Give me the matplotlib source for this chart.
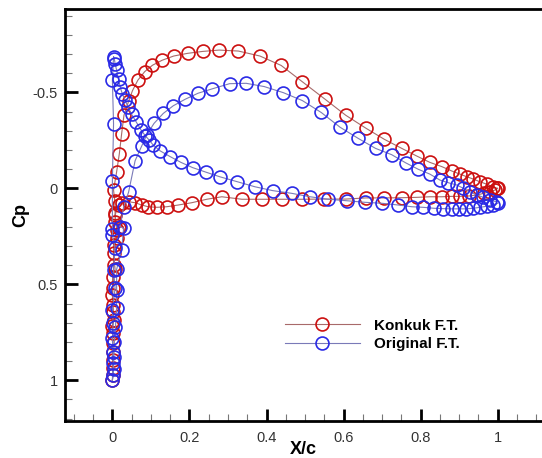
import matplotlib
matplotlib.use("Agg")
import matplotlib.pyplot as plt
from matplotlib.ticker import MultipleLocator, FixedLocator

plt.rcParams['font.family'] = ['Liberation Sans', 'DejaVu Sans']

# Konkuk F.T. pressure distribution (trailing edge -> upper -> LE -> lower -> TE)
konkuk_x = [0.999, 0.989, 0.971, 0.954, 0.937, 0.920, 0.902, 0.881, 0.855, 0.824,
            0.790, 0.751, 0.706, 0.658, 0.606, 0.552, 0.493, 0.438, 0.383, 0.327,
            0.277, 0.234, 0.195, 0.159, 0.129, 0.104, 0.084, 0.066, 0.052, 0.042,
            0.030, 0.024, 0.018, 0.011, 0.003,
            0.006, 0.007, 0.011, 0.003, 0.003, 0.001, 0.001, 0.001, 0.001, 0.001, 0.000,
            0.002, 0.002, 0.001, 0.000, 0.003, 0.001, 0.000, 0.002, 0.007, 0.003,
            0.011, 0.016, 0.007, 0.007, 0.016, 0.024,
            0.042, 0.059, 0.076, 0.093, 0.115, 0.141, 0.171, 0.206, 0.245, 0.284,
            0.336, 0.388, 0.440, 0.493, 0.549, 0.606, 0.658, 0.706, 0.751, 0.790,
            0.824, 0.855, 0.881, 0.902, 0.925, 0.946, 0.964, 0.980, 0.993, 1.000]
konkuk_cp = [0.000, -0.008, -0.022, -0.034, -0.048, -0.060, -0.074, -0.090, -0.113, -0.135,
             -0.168, -0.208, -0.255, -0.313, -0.380, -0.464, -0.555, -0.640, -0.689, -0.715,
             -0.720, -0.713, -0.703, -0.689, -0.667, -0.641, -0.608, -0.563, -0.508, -0.453,
             -0.380, -0.284, -0.180, -0.086, 0.009,
             0.065, 0.130, 0.217, 0.295, 0.400, 0.520, 0.643, 0.755, 0.851, 0.937, 1.000,
             0.972, 0.894, 0.807, 0.717, 0.686, 0.608, 0.556, 0.460, 0.422, 0.339,
             0.260, 0.208, 0.174, 0.139, 0.087, 0.075,
             0.070, 0.075, 0.087, 0.096, 0.099, 0.096, 0.087, 0.075, 0.057, 0.044,
             0.057, 0.057, 0.057, 0.057, 0.056, 0.056, 0.050, 0.050, 0.049, 0.047,
             0.044, 0.044, 0.042, 0.042, 0.040, 0.035, 0.026, 0.018, 0.009, 0.000]

# Original F.T. pressure distribution
original_x = [0.997, 0.980, 0.963, 0.946, 0.928, 0.911, 0.894, 0.872, 0.850, 0.824,
              0.794, 0.761, 0.725, 0.683, 0.638, 0.591, 0.542, 0.493, 0.444, 0.394,
              0.347, 0.304, 0.259, 0.222, 0.189, 0.158, 0.132, 0.108, 0.089, 0.076,
              0.059, 0.042, 0.029, 0.020,
              0.029, 0.024, 0.011, 0.011, 0.011, 0.008, 0.005, 0.004, 0.003, 0.000,
              0.001, 0.002, 0.001, 0.000, 0.002, 0.000, 0.007, 0.003, 0.007, 0.000,
              0.000, 0.000, 0.003, 0.000, 0.003,
              0.005, 0.007, 0.011, 0.016, 0.020, 0.026, 0.033, 0.040, 0.050, 0.062,
              0.074, 0.085, 0.096, 0.106, 0.124, 0.150, 0.178, 0.208, 0.243, 0.279,
              0.323, 0.370, 0.416, 0.465, 0.513, 0.560, 0.610, 0.656, 0.700, 0.742,
              0.777, 0.807, 0.835, 0.859, 0.881, 0.900, 0.918, 0.937, 0.954, 0.971,
              0.989, 1.000]
original_cp = [0.070, 0.061, 0.047, 0.035, 0.018, 0.000, -0.017, -0.029, -0.043, -0.074,
               -0.099, -0.133, -0.175, -0.208, -0.260, -0.318, -0.395, -0.457, -0.498, -0.530,
               -0.547, -0.545, -0.518, -0.495, -0.464, -0.430, -0.390, -0.338, -0.278, -0.220,
               -0.144, 0.020, 0.099, 0.200,
               0.208, 0.321, 0.422, 0.530, 0.625, 0.720, 0.800, 0.880, 0.940, 1.000,
               0.970, 0.910, 0.850, 0.780, 0.700, 0.634, 0.520, 0.425, 0.313, 0.243,
               0.210, -0.040, -0.335, -0.564, -0.686,
               -0.675, -0.650, -0.615, -0.570, -0.530, -0.490, -0.460, -0.425, -0.385, -0.345,
               -0.305, -0.275, -0.250, -0.225, -0.195, -0.165, -0.135, -0.108, -0.084, -0.060,
               -0.035, -0.008, 0.012, 0.026, 0.044, 0.057, 0.065, 0.073, 0.078, 0.087,
               0.096, 0.099, 0.104, 0.106, 0.107, 0.107, 0.107, 0.104, 0.099, 0.094,
               0.085, 0.078]

x_ticks = [0, 0.2, 0.4, 0.6, 0.8, 1.0]
x_tick_labels = ['0', '0.2', '0.4', '0.6', '0.8', '1']
y_ticks = [-0.5, 0, 0.5, 1.0]
y_tick_labels = ['-0.5', '0', '0.5', '1']

W, H = 542, 458
fig = plt.figure(figsize=(W / 100, H / 100), dpi=100)
ax = fig.add_axes([65 / W, (H - 421) / H, 1 - 65 / W, (421 - 9) / H])

red = '#cc1010'
blue = '#2a2ae6'
ax.plot(konkuk_x, konkuk_cp, color='#a86a6a', lw=0.8, marker='o', ms=9.3,
        mfc='none', mec=red, mew=1.2, label='Konkuk F.T.', zorder=3)
ax.plot(original_x, original_cp, color='#7a7ab8', lw=0.8, marker='o', ms=9.3,
        mfc='none', mec=blue, mew=1.2, label='Original F.T.', zorder=4)

ax.set_xlim(-0.123, 1.115)
ax.set_ylim(1.212, -0.934)

ax.xaxis.set_major_locator(FixedLocator(x_ticks))
ax.set_xticklabels(x_tick_labels)
ax.yaxis.set_major_locator(FixedLocator(y_ticks))
ax.set_yticklabels(y_tick_labels)
ax.xaxis.set_minor_locator(MultipleLocator(0.05))
ax.yaxis.set_minor_locator(MultipleLocator(0.1))

ax.tick_params(which='major', direction='in', length=9, width=2.0, color='black',
               labelsize=10.5, labelcolor='#333333')
ax.tick_params(which='minor', direction='in', length=5, width=0.8, color='#777777')
ax.tick_params(axis='x', which='major', pad=7)
ax.tick_params(axis='y', which='major', pad=5)
ax.tick_params(top=False, right=False, which='both')

for side in ['left', 'bottom', 'top']:
    ax.spines[side].set_linewidth(2.0)
ax.spines['right'].set_visible(False)

# Axis titles placed in axes coordinates
ax.set_xlabel('X/c', fontsize=13, fontweight='bold', va='center')
ax.set_ylabel('Cp', fontsize=13, fontweight='bold', va='center')
ax_w, ax_h = W - 65, 421 - 9
ax.xaxis.set_label_coords((303 - 65) / ax_w, -(449 - 421) / ax_h)
ax.yaxis.set_label_coords((21 - 65) / ax_w, 0.5)

ax.legend(loc='center left', bbox_to_anchor=(285 / W, 1 - 335 / H),
          bbox_transform=fig.transFigure, frameon=False, borderpad=0,
          borderaxespad=0, handlelength=4.9, handletextpad=0.9,
          labelspacing=0.3, prop={'weight': 'bold', 'size': 11})

fig.savefig('out.png', dpi=100)
